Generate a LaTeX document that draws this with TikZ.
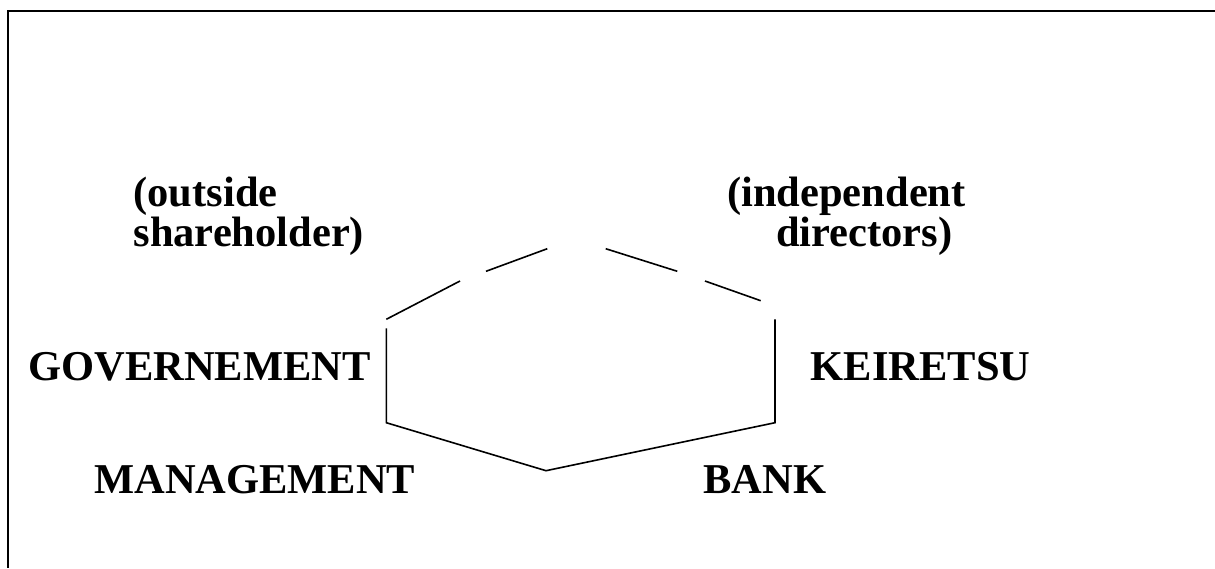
\documentclass[tikz,border=0pt]{standalone}
\usepackage{fontspec}
\setmainfont{Liberation Serif}
\begin{document}
\begin{tikzpicture}[x=1pt,y=-1pt,
  lbl/.style={anchor=base west,inner sep=0pt,font=\fontsize{42.5}{38.3}\selectfont\bfseries},
  two/.style={lbl,align=left},
  edge/.style={line width=1.6pt,line cap=butt}]
\useasboundingbox (0,0) rectangle (1215,568);
% frame (top and left edges only)
\coordinate (ftl) at (8.3,11);
\coordinate (ftr) at (1215,11);
\coordinate (fbl) at (8.3,568);
\draw[line width=2pt] (ftr) -- (ftl) -- (fbl);
% labels (base anchor = baseline of last line)
\node[two] (out) at (133.3,246.3) {(outside\\shareholder)};
\node[two] (ind) at (727,246.3) {(independent\\\hspace*{49pt}directors)};
\node[lbl] (gov) at (28,380) {GOVERNEMENT};
\node[lbl] (kei) at (810.5,380) {KEIRETSU};
\node[lbl] (man) at (94,493.3) {MANAGEMENT};
\node[lbl] (bank) at (703.3,493.3) {BANK};
% hexagon segments
\coordinate (a1) at (386.3,319.3);
\coordinate (a2) at (460,281);
\coordinate (b1) at (486,271.3);
\coordinate (b2) at (547.3,248.7);
\coordinate (c1) at (605.7,248.7);
\coordinate (c2) at (677.3,271.3);
\coordinate (d1) at (705,281);
\coordinate (d2) at (760.7,300.7);
\coordinate (l1) at (386.3,328.3);
\coordinate (l2) at (386.3,422.7);
\coordinate (bm) at (546,470.7);
\coordinate (r2) at (775,422.7);
\coordinate (r1) at (775,319.3);
\draw[edge] (a1) -- (a2);
\draw[edge] (b1) -- (b2);
\draw[edge] (c1) -- (c2);
\draw[edge] (d1) -- (d2);
\draw[edge,line join=miter] (l1) -- (l2) -- (bm) -- (r2) -- (r1);
\end{tikzpicture}
\end{document}
